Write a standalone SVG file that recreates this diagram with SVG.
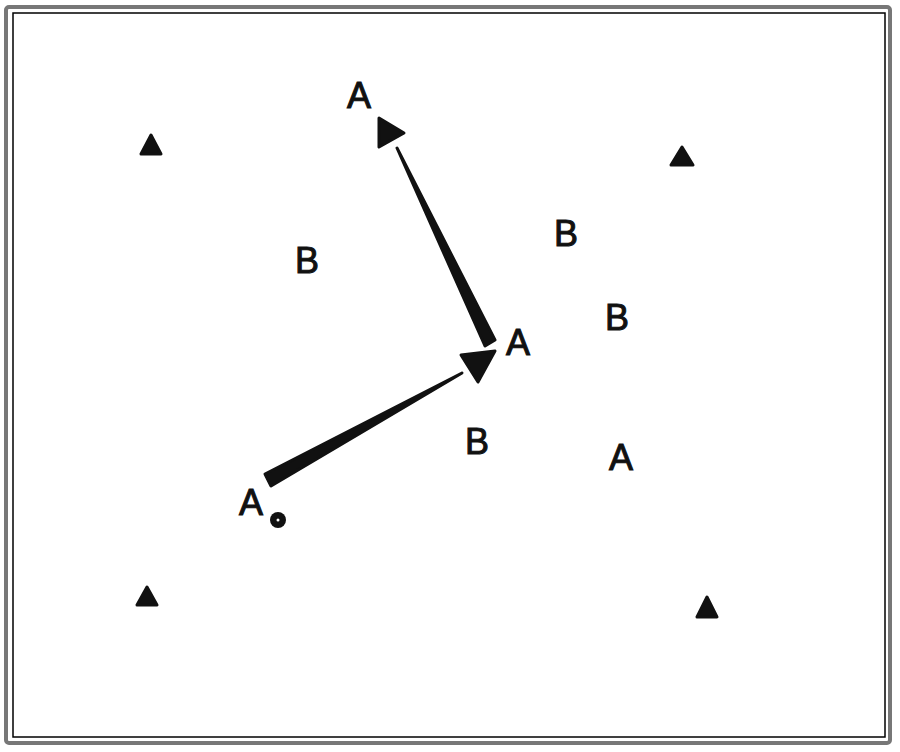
<svg xmlns="http://www.w3.org/2000/svg" width="900" height="752" viewBox="0 0 900 752">
<style>
.lbl{font-family:"Liberation Sans",Arial,sans-serif;font-size:36px;fill:#111;stroke:#111;stroke-width:1;text-anchor:middle}
.mark{fill:#111;stroke:#111;stroke-width:3;stroke-linejoin:round}
</style>
<rect width="900" height="752" fill="#fff"/>
<g id="frame">
<rect x="6" y="7" width="884" height="736" rx="3" fill="none" stroke="#777" stroke-width="4"/>
<rect x="13" y="13" width="872" height="724" fill="none" stroke="#000" stroke-width="1.5"/>
</g>
<g id="connectors">
<polygon class="mark" points="397,148 495,340 485,346"/>
<polygon class="mark" points="462,373 271,486 265,474"/>
<polygon class="mark" points="379,118 404,133 379,147"/>
<polygon class="mark" points="461,355 495,351 478,382"/>
</g>
<g id="markers">
<polygon id="t1" class="mark" points="151,135 161,154 141,154"/>
<polygon id="t2" class="mark" points="682,147 693,165 671,165"/>
<polygon id="t3" class="mark" points="147,587 157,605 137,605"/>
<polygon id="t4" class="mark" points="707,597 717,617 697,617"/>
<g id="dot"><circle cx="278" cy="520" r="8" fill="#111"/><circle cx="278" cy="520" r="1.5" fill="#fff"/></g>
</g>
<g id="labels">
<text id="a1" class="lbl" x="359" y="108">A</text>
<text id="a2" class="lbl" x="518" y="355">A</text>
<text id="a3" class="lbl" x="251" y="515">A</text>
<text id="a4" class="lbl" x="621" y="470">A</text>
<text id="b1" class="lbl" x="307" y="273">B</text>
<text id="b2" class="lbl" x="566" y="246">B</text>
<text id="b3" class="lbl" x="617" y="330">B</text>
<text id="b4" class="lbl" x="477" y="454">B</text>
</g>
</svg>
